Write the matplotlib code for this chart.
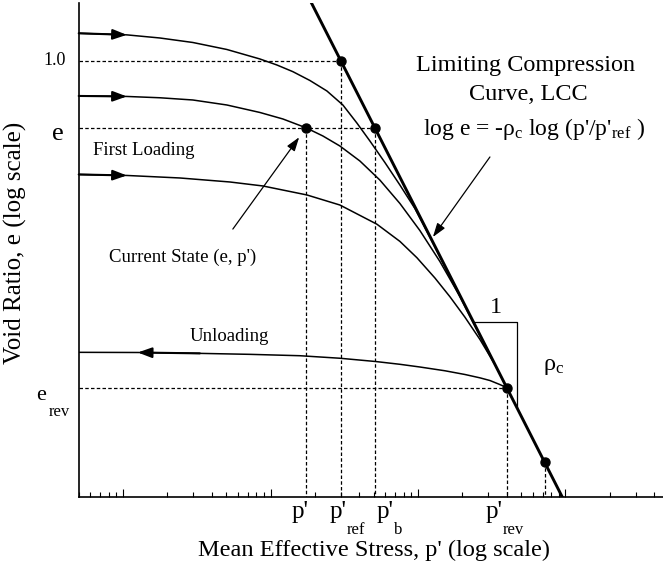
import matplotlib
matplotlib.use("Agg")
import matplotlib.pyplot as plt
from matplotlib.ticker import LogLocator, NullFormatter

plt.rcParams['font.family'] = ['Liberation Serif', 'DejaVu Serif']
plt.rcParams['mathtext.fontset'] = 'custom'
plt.rcParams['mathtext.rm'] = 'Liberation Serif'
plt.rcParams['mathtext.it'] = 'Liberation Serif:italic'

# limiting compression curve: log e = -rho_c log(p'/p'_ref), rho_c = 0.5, p'_ref = 30
lcc_p = [18, 1000]
lcc_e = [1.291, 0.1732]

# loading curves
top_p = [0.5, 1.06, 1.774, 2.971, 5.053, 8.459, 11.03, 14.17, 18.48, 24.10, 30.94, 38.51,
         47.18, 59.62, 75.40, 95.28, 120.4, 152.2, 192.4]
top_e = [1.116, 1.109, 1.0954, 1.076, 1.0466, 1.008, 0.9843, 0.9585, 0.9256, 0.8879, 0.8399, 0.7819,
         0.7282, 0.6687, 0.6115, 0.5572, 0.4977, 0.4427, 0.3946]

mid_p = [0.5, 1.06, 1.774, 2.971, 5.053, 8.459, 12.12, 17.36, 22.64, 29.52, 40.35, 55.14,
         75.40, 103.0, 140.8, 192.4, 263.0, 307.4]
mid_e = [0.8705, 0.8688, 0.8643, 0.8567, 0.8399, 0.8154, 0.7946, 0.7675, 0.7428, 0.7139, 0.6727, 0.6237,
         0.5684, 0.5106, 0.4516, 0.3932, 0.3368, 0.3123]

low_p = [0.5, 1.06, 2.425, 5.296, 8.866, 17.63, 29.52, 52.64, 75.40, 98.29, 130.2, 164.6,
         208.1, 263.0, 332.4, 400]
low_e = [0.6377, 0.6352, 0.6289, 0.6190, 0.6093, 0.5880, 0.5650, 0.5236, 0.4891, 0.4585, 0.4231, 0.3928,
         0.3622, 0.3316, 0.3002, 0.2739]

# unloading curve from the reversal point
unl_p = [400, 359.4, 307.4, 263.0, 208.1, 152.2, 103.0, 75.40, 51.82, 29.52, 15.80, 7.237,
         3.314, 1.258, 0.5]
unl_e = [0.2739, 0.2773, 0.2818, 0.2848, 0.2886, 0.2929, 0.2973, 0.3005, 0.3038, 0.3078, 0.3109, 0.3126,
         0.3138, 0.3149, 0.3151]

# marked states: p'_ref, current, p'_b, p'_rev, lower point
dot_p = [30, 17.36, 51, 400, 725]
dot_e = [1.0, 0.7675, 0.7675, 0.2739, 0.204]
hguide = [0, 2, 3]   # dots that also get a horizontal guide

# slope triangle
tri_p = [239, 466.5, 466.5]
tri_e = [0.355, 0.355, 0.2536]

# pointer arrows (tail, tip)
cs_arrow = [(5.55, 0.5136), (15.63, 0.739)]
lcc_arrow = [(307.4, 0.6835), (126.2, 0.4977)]

x_lab_p = [17.36, 30, 51, 400]
x_lab_sub = ["", "ref", "b", "rev"]
x_lab_dx = [-10.4, -8.4, 1.4, -15.0]

fig = plt.figure(figsize=(6.63, 5.70), dpi=100)
ax = fig.add_axes([78.7 / 663, 1 - 496.7 / 570, 1 - 78.7 / 663, 493.4 / 570])
ax.set_xscale('log')
ax.set_yscale('log')
ax.set_xlim(0.5, 4586)
ax.set_ylim(0.1778, 1.2568)

for s in ['top', 'right']:
    ax.spines[s].set_visible(False)
for s in ['left', 'bottom']:
    ax.spines[s].set_linewidth(1.2)

ax.xaxis.set_major_locator(LogLocator(base=10))
ax.xaxis.set_minor_locator(LogLocator(base=10, subs=range(2, 10)))
ax.xaxis.set_major_formatter(NullFormatter())
ax.xaxis.set_minor_formatter(NullFormatter())
ax.tick_params(axis='x', which='major', direction='in', length=6, width=0.8)
ax.tick_params(axis='x', which='minor', direction='in', length=3.6, width=0.8)
ax.tick_params(axis='y', which='both', left=False, labelleft=False)

# dashed guides
dash = dict(color='black', lw=0.9, linestyle=(0, (2.8, 1.8)))
for i in hguide:
    ax.plot([0.5, dot_p[i]], [dot_e[i], dot_e[i]], **dash)
for p, e in zip(dot_p, dot_e):
    ax.plot([p, p], [e, 0.1778], **dash)

# curves
for xs, ys in [(top_p, top_e), (mid_p, mid_e), (low_p, low_e), (unl_p, unl_e)]:
    ax.plot(xs, ys, color='black', lw=1.1)
ax.plot(lcc_p, lcc_e, color='black', lw=2.1)
ax.plot(tri_p, tri_e, color='black', lw=0.9)
ax.plot(dot_p, dot_e, 'o', color='black', ms=6.5)

# direction arrows on the curves
head = dict(arrowstyle='-|>,head_length=0.6,head_width=0.22', color='black',
            lw=1.5, shrinkA=0, shrinkB=0, mutation_scale=14)
for xs, ys in [(top_p, top_e), (mid_p, mid_e), (low_p, low_e)]:
    ax.annotate('', xy=(xs[1], ys[1]), xytext=(xs[0], ys[0]), arrowprops=head)
ax.annotate('', xy=(unl_p[-2], unl_e[-2]), xytext=(unl_p[-3], unl_e[-3]), arrowprops=head)

ptr = dict(arrowstyle='-|>,head_length=0.6,head_width=0.2', color='black',
           lw=0.9, shrinkA=0, shrinkB=0, mutation_scale=14)
ax.annotate('', xy=cs_arrow[1], xytext=cs_arrow[0], arrowprops=ptr)
ax.annotate('', xy=lcc_arrow[1], xytext=lcc_arrow[0], arrowprops=ptr)


def label(xy, trans, main, sub, dx, dy, size, sub_size, sub_dx, sub_dy, ha='left'):
    t = ax.annotate(main, xy=xy, xycoords=trans, xytext=(dx, dy), textcoords='offset points',
                    ha=ha, va='baseline', fontsize=size)
    if sub:
        ax.annotate(sub, xy=(1, 0), xycoords=t, xytext=(sub_dx, sub_dy),
                    textcoords='offset points', ha='left', va='baseline', fontsize=sub_size)
    return t


for p, sub, dx in zip(x_lab_p, x_lab_sub, x_lab_dx):
    label((p, 0), ax.get_xaxis_transform(), "p'", sub, dx, -15.3, 18, 12, 0, -7.6)

ytr = ax.get_yaxis_transform()
ax.annotate('1.0', xy=(0, dot_e[0]), xycoords=ytr, xytext=(-9.5, 0), textcoords='offset points',
            ha='right', va='center', fontsize=13)
label((0, dot_e[1]), ytr, 'e', '', -11, -8.9, 19, 12, 0, 0, ha='right')
label((0, dot_e[3]), ytr, 'e', 'rev', -30.7, -8.9, 16, 12, 2, -8)

ax.text(0.0245, 0.6925, 'First Loading', transform=ax.transAxes, fontsize=13.5, va='baseline')
ax.text(0.0519, 0.4757, "Current State (e, p')", transform=ax.transAxes, fontsize=13.5, va='baseline')
ax.text(0.1906, 0.3146, 'Unloading', transform=ax.transAxes, fontsize=13.5, va='baseline')
ax.text(0.7647, 0.8638, 'Limiting Compression', transform=ax.transAxes, fontsize=17.5,
        ha='center', va='baseline')
ax.text(0.769, 0.804, 'Curve, LCC', transform=ax.transAxes, fontsize=17.5, ha='center', va='baseline')
ax.text(0.7789, 0.7326, r"log e = -$\mathrm{ρ_c}$ log (p'/p'$_\mathrm{ref}$ )", transform=ax.transAxes,
        fontsize=17, ha='center', va='baseline')
ax.text(0.7137, 0.3731, '1', transform=ax.transAxes, fontsize=17.5, ha='center', va='baseline')
ax.text(0.7946, 0.2568, r'$\mathrm{ρ_c}$', transform=ax.transAxes, fontsize=17.5, va='baseline')

fig.text(15 / 663, 1 - 243 / 570, 'Void Ratio, e (log scale)', rotation=90,
         ha='center', va='center', fontsize=18)
fig.text(374 / 663, 1 - 556 / 570, "Mean Effective Stress, p' (log scale)",
         ha='center', va='baseline', fontsize=17.6)

fig.savefig('out.png', dpi=100)
